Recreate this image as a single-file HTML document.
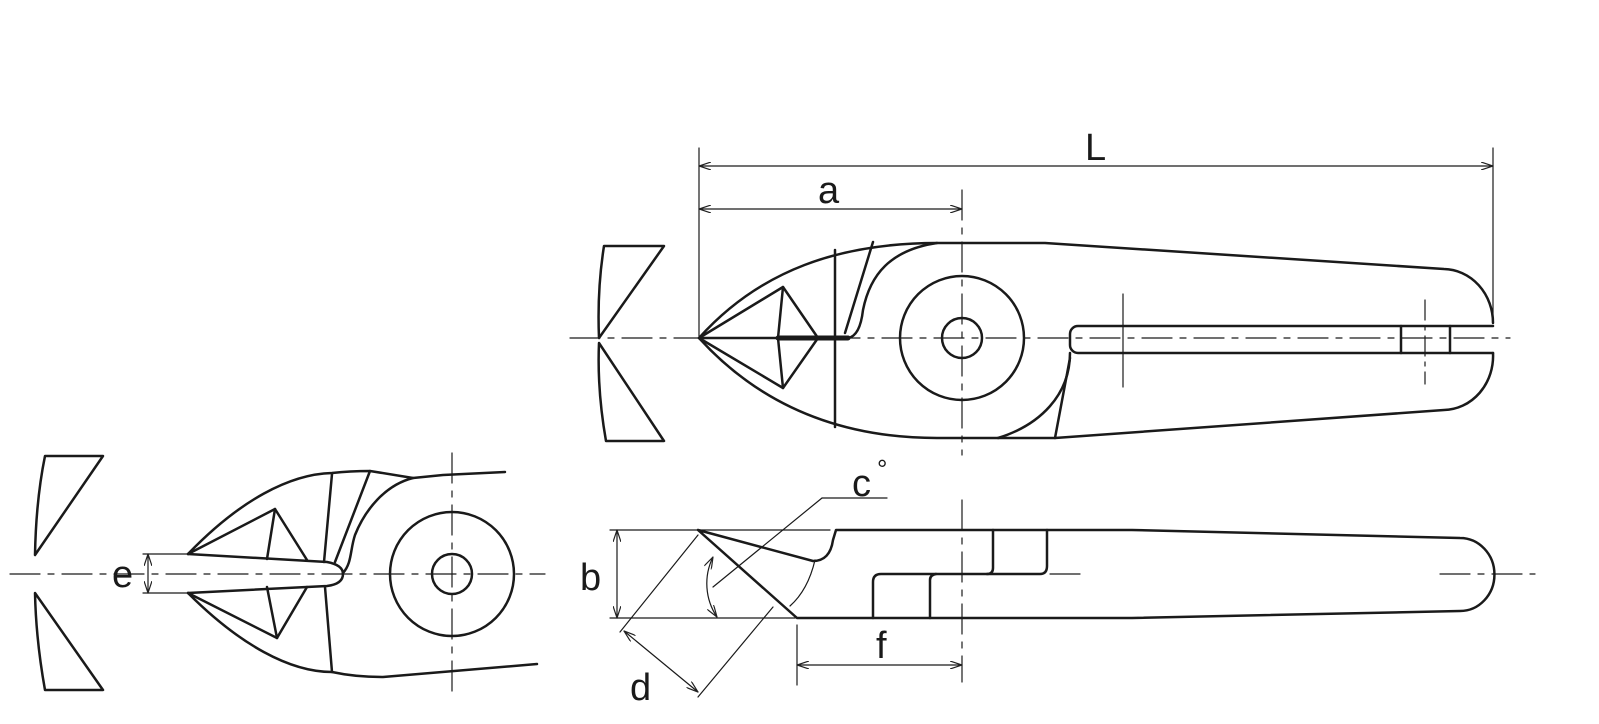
<!DOCTYPE html>
<html><head><style>html,body{margin:0;padding:0;background:#fff}svg{display:block}</style></head><body>
<svg width="1599" height="724" viewBox="0 0 1599 724" xmlns="http://www.w3.org/2000/svg">
<defs>
<marker id="ar" viewBox="0 0 12 8" refX="12" refY="4" markerWidth="12" markerHeight="8" orient="auto-start-reverse" markerUnits="userSpaceOnUse"><path d="M0,0 L12,4 L0,8" fill="none" stroke="#222" stroke-width="1.2"/></marker>
</defs>
<g fill="none" stroke="#1a1a1a" stroke-linejoin="round" stroke-linecap="round">
<!-- TOP VIEW -->
<g stroke-width="1.2">
<line x1="570" y1="338" x2="1510" y2="338" stroke-dasharray="30 8 6 8"/>
<line x1="962" y1="190" x2="962" y2="455" stroke-dasharray="30 8 6 8"/>
<line x1="1123" y1="294" x2="1123" y2="387"/>
<line x1="1425" y1="300" x2="1425" y2="384" stroke-dasharray="20 6 4 6"/>
<line x1="699" y1="148" x2="699" y2="336"/>
<line x1="1493" y1="148" x2="1493" y2="322"/>
<line x1="699" y1="166" x2="1493" y2="166" marker-start="url(#ar)" marker-end="url(#ar)"/>
<line x1="699" y1="209" x2="962" y2="209" marker-start="url(#ar)" marker-end="url(#ar)"/>
</g>
<g stroke-width="2.5">
<path d="M699,338 C760,270 840,243 937,243 L1045,243 L1444,269 A50,54 0 0 1 1493,323"/>
<path d="M699,338 C760,405 840,438 937,438 L1055,438 L1444,410 A50,54 0 0 0 1493,353"/>
<path d="M1493,326 L1078,326 A8,8 0 0 0 1070,334 L1070,345 A8,8 0 0 0 1078,353 L1493,353"/>
<line x1="1401" y1="326" x2="1401" y2="353"/><line x1="1450" y1="326" x2="1450" y2="353"/>
<path d="M699,338 L783,287 L818,338 L783,388 Z"/>
<line x1="699" y1="338" x2="778" y2="338"/>
<line x1="778" y1="338" x2="848" y2="338" stroke-width="5"/>
<path d="M783,287 L778,338 L783,388"/>
<line x1="835" y1="250" x2="835" y2="427"/>
<line x1="873" y1="242" x2="845" y2="333"/>
<path d="M848,338 Q860,336 863,310 C870,275 890,250 937,243"/>
<path d="M998,438 C1040,425 1070,395 1070,353"/>
<line x1="1070" y1="358" x2="1055" y2="438"/>
<circle cx="962" cy="338" r="62"/>
<circle cx="962" cy="338" r="20"/>
<path d="M604,246 L664,246 L599,338 Q597,290 604,246 Z"/>
<path d="M599,343 L664,441 L606,441 Q597,390 599,343 Z"/>
</g>
<!-- BOTTOM LEFT VIEW -->
<g stroke-width="1.2">
<line x1="10" y1="574" x2="545" y2="574" stroke-dasharray="30 8 6 8"/>
<line x1="452" y1="453" x2="452" y2="695" stroke-dasharray="30 8 6 8"/>
<line x1="143" y1="554" x2="188" y2="554"/><line x1="143" y1="593" x2="188" y2="593"/>
<line x1="148" y1="554" x2="148" y2="593" marker-start="url(#ar)" marker-end="url(#ar)"/>
</g>
<g stroke-width="2.5">
<path d="M45,456 L103,456 L35,555 Q36,500 45,456 Z"/>
<path d="M35,593 L103,690 L45,690 Q36,640 35,593 Z"/>
<path d="M188,554 C240,500 290,474 332,473 Q350,471 370,471 L413,478 L443,475 L505,472"/>
<path d="M188,593 C240,645 290,672 332,672 Q355,677 383,677 L537,664"/>
<path d="M188,554 L327,562 Q343,565 343,574 Q343,584 327,586 L188,593"/>
<path d="M188,554 L275,509 L307,560"/><line x1="267" y1="559" x2="275" y2="509"/>
<path d="M188,593 L277,638 L307,587"/><line x1="267" y1="587" x2="277" y2="638"/>
<line x1="332" y1="474" x2="324" y2="562"/><line x1="325" y1="587" x2="332" y2="672"/>
<line x1="370" y1="471" x2="335" y2="562"/>
<path d="M413,478 C385,485 365,510 355,535 C350,550 352,563 343,573"/>
<circle cx="452" cy="574" r="62"/>
<circle cx="452" cy="574" r="20"/>
</g>
<!-- SIDE VIEW -->
<g stroke-width="1.2">
<line x1="1440" y1="574" x2="1535" y2="574" stroke-dasharray="30 8 6 8"/>
<line x1="962" y1="500" x2="962" y2="682" stroke-dasharray="30 8 6 8"/>
<line x1="610" y1="530" x2="830" y2="530"/><line x1="610" y1="618" x2="795" y2="618"/>
<line x1="617" y1="530" x2="617" y2="618" marker-start="url(#ar)" marker-end="url(#ar)"/>
<line x1="1050" y1="574" x2="1080" y2="574"/>
<line x1="698" y1="535" x2="620" y2="632"/>
<line x1="773" y1="607" x2="698" y2="697"/>
<line x1="624" y1="631" x2="698" y2="692" marker-start="url(#ar)" marker-end="url(#ar)"/>
<path d="M713,557 A60,60 0 0 0 717,617" marker-start="url(#ar)" marker-end="url(#ar)"/>
<line x1="713" y1="587" x2="822" y2="498"/><line x1="822" y1="498" x2="887" y2="498"/>
<path d="M815,560 Q808,590 790,606"/>
<line x1="797" y1="625" x2="797" y2="685"/>
<line x1="797" y1="665" x2="962" y2="665" marker-start="url(#ar)" marker-end="url(#ar)"/>
</g>
<g stroke-width="2.5">
<path d="M698,530 L813,561 Q830,561 833,540 L836,530 L1132,530 L1460,538 A34,36 0 0 1 1460,611 L1132,618 L797,618 L698,530"/>
<path d="M873,618 L873,582 Q873,574 881,574 L1040,574 Q1047,574 1047,566 L1047,530"/>
<path d="M930,618 L930,580 Q930,575 936,574"/>
<path d="M993,530 L993,568 Q993,574 987,574"/>
</g>
</g>
<g font-family="Liberation Sans, sans-serif" font-size="38" fill="#1a1a1a">
<text x="1085" y="160">L</text>
<text x="818" y="203">a</text>
<text x="112" y="587">e</text>
<text x="580" y="590">b</text>
<text x="852" y="496">c</text><text x="877" y="478" font-size="26">°</text>
<text x="630" y="700">d</text>
<text x="876" y="658">f</text>
</g>
</svg>
</body></html>
